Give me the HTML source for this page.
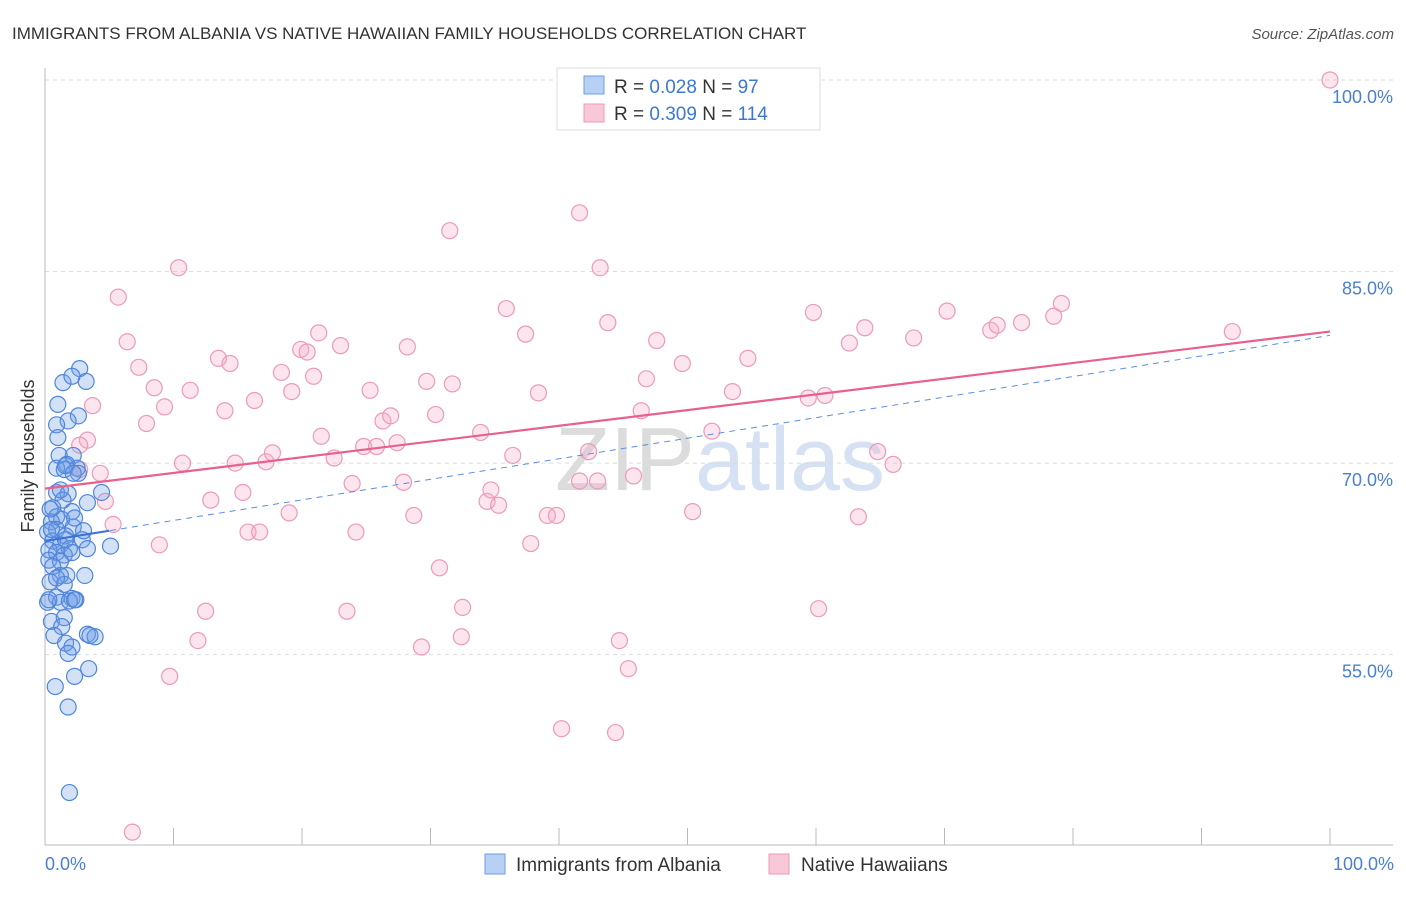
<!DOCTYPE html>
<html><head><meta charset="utf-8">
<style>
body{margin:0;background:#fff;font-family:"Liberation Sans",sans-serif;}
svg text{font-family:"Liberation Sans",sans-serif;}
</style></head>
<body>
<svg id="chart" width="1406" height="892" viewBox="0 0 1406 892" xmlns="http://www.w3.org/2000/svg">
<text x="12" y="39" font-size="17" fill="#333">IMMIGRANTS FROM ALBANIA VS NATIVE HAWAIIAN FAMILY HOUSEHOLDS CORRELATION CHART</text>
<text x="1394" y="39" font-size="15" fill="#555" text-anchor="end" font-style="italic">Source: ZipAtlas.com</text>
<text x="720" y="490" font-size="90" fill="#e4e8ee" text-anchor="middle" font-family="Liberation Serif"><tspan fill="#dcdcdc">ZIP</tspan><tspan fill="#d6e2f3" font-family="Liberation Sans">atlas</tspan></text>
<g id="grid"></g>
<g id="axes"></g>
<g id="pts"></g>
<g id="trends"></g>
<text transform="translate(34,456) rotate(-90)" font-size="18" fill="#333" text-anchor="middle">Family Households</text>
<text x="45" y="870" font-size="18" fill="#4a7fd4">0.0%</text>
<text x="1394" y="870" font-size="18" fill="#4a7fd4" text-anchor="end">100.0%</text>
<g>
<rect x="557" y="68" width="263" height="62" fill="#fff" stroke="#ddd"/>
<rect x="584" y="76" width="20" height="18" fill="#b7d0f4" stroke="#6e9de6"/>
<text x="614" y="93" font-size="19" fill="#333">R = <tspan fill="#3a78d6">0.028</tspan>   N = <tspan fill="#3a78d6"> 97</tspan></text>
<rect x="584" y="104" width="20" height="18" fill="#f8c8d8" stroke="#ee9ab8"/>
<text x="614" y="120" font-size="19" fill="#333">R = <tspan fill="#3a78d6">0.309</tspan>   N = <tspan fill="#3a78d6">114</tspan></text>
</g>
<g>
<rect x="485" y="854" width="20" height="20" fill="#b7d0f4" stroke="#6e9de6"/>
<text x="516" y="871" font-size="19" fill="#333">Immigrants from Albania</text>
<rect x="769" y="854" width="20" height="20" fill="#f8c8d8" stroke="#ee9ab8"/>
<text x="801" y="871" font-size="19" fill="#333">Native Hawaiians</text>
</g>
</svg>
<script>
const yTicks=[100,85,70,55];
const yTickLabels=["100.0%","85.0%","70.0%","55.0%"];
const xTicks=[10,20,30,40,50,60,70,80,90,100];
const blueX=[2.7,3.2,1.4,2.1,1.0,2.6,1.8,0.9,1.0,2.2,1.1,1.7,0.9,2.5,2.6,1.5,3.3,4.4,0.9,1.8,1.4,0.6,2.1,0.9,1.3,0.5,2.2,0.9,0.2,1.6,2.9,0.6,1.2,5.1,3.3,1.9,0.3,0.9,1.5,2.1,0.3,1.2,0.6,3.1,1.7,1.2,0.4,1.5,2.1,2.4,0.9,0.2,1.2,1.9,0.5,1.5,1.3,0.7,3.3,3.9,3.5,1.6,2.1,1.8,3.4,2.3,0.8,1.8,1.9,3.0,0.9,0.3,2.3,0.4,1.6,2.2,1.2,0.5,1.6,2.3];
const blueY=[77.4,76.4,76.3,76.8,74.6,73.7,73.3,73.0,72.0,70.6,70.6,69.9,69.6,69.6,69.2,69.5,66.9,67.7,67.7,67.6,67.1,66.5,66.2,65.8,65.6,65.4,65.0,64.8,64.6,64.3,64.0,63.9,63.6,63.5,63.3,63.3,63.2,63.0,62.8,63.0,62.4,62.3,61.9,61.2,61.2,61.2,60.7,60.5,59.4,59.3,59.5,59.1,59.1,59.2,57.6,57.9,57.2,56.5,56.6,56.4,56.5,55.9,55.6,55.1,53.9,53.3,52.5,50.9,44.2,64.7,61.0,59.3,59.3,66.4,69.8,69.2,67.9,64.8,64.0,65.7];
const pinkX=[100,5.7,10.4,6.4,7.3,8.5,9.3,7.9,3.7,3.3,2.7,2.7,4.3,4.7,5.3,8.9,10.7,11.3,12.9,13.5,14.0,14.4,14.8,15.4,16.3,15.8,16.7,17.2,17.7,18.4,19.0,19.2,19.9,20.4,20.9,21.3,21.5,22.5,23.0,23.9,24.2,24.8,25.8,25.3,23.5,26.3,26.9,27.4,27.9,28.2,28.7,29.7,30.4,31.7,30.7,29.3,31.5,32.4,32.5,33.9,34.4,34.7,35.3,36.4,35.9,37.4,37.8,38.4,39.1,39.8,40.2,41.6,42.3,41.6,43.0,43.2,43.8,44.7,45.4,44.4,45.8,46.4,46.8,47.6,49.6,50.4,51.9,53.5,54.7,59.4,59.8,60.2,60.7,62.6,63.3,63.8,64.8,66.0,67.6,70.2,73.6,74.1,76.0,78.5,79.1,92.4,6.8,9.7,11.9,12.5];
const pinkY=[100,83.0,85.3,79.5,77.5,75.9,74.4,73.1,74.5,71.8,71.4,69.5,69.2,67.0,65.2,63.6,70.0,75.7,67.1,78.2,74.1,77.8,70.0,67.7,74.9,64.6,64.6,70.1,70.8,77.1,66.1,75.6,78.9,78.7,76.8,80.2,72.1,70.4,79.2,68.4,64.6,71.3,71.3,75.7,58.4,73.3,73.7,71.6,68.5,79.1,65.9,76.4,73.8,76.2,61.8,55.6,88.2,56.4,58.7,72.4,67.0,67.9,66.7,70.6,82.1,80.1,63.7,75.5,65.9,65.9,49.2,89.6,70.9,68.6,68.6,85.3,81.0,56.1,53.9,48.9,69.0,74.1,76.6,79.6,77.8,66.2,72.5,75.6,78.2,75.1,81.8,58.6,75.3,79.4,65.8,80.6,70.9,69.9,79.8,81.9,80.4,80.8,81.0,81.5,82.5,80.3,41.1,53.3,56.1,58.4];
const pinkTrend=[68.0,80.3];
const blueTrend=[63.9,80.0];
const blueSolidEnd=5;

const NS="http://www.w3.org/2000/svg";
const X0=45,X1=1330,Y100=80,PXPER=12.77;
function sx(v){return X0+(X1-X0)*v/100;}
function sy(v){return Y100+(100-v)*PXPER;}
function mk(tag,attrs,parent){const e=document.createElementNS(NS,tag);for(const k in attrs)e.setAttribute(k,attrs[k]);parent.appendChild(e);return e;}
const grid=document.getElementById('grid'),axes=document.getElementById('axes'),pts=document.getElementById('pts'),tr=document.getElementById('trends');
yTicks.forEach((t,i)=>{
  const l=mk('line',{x1:45,x2:1393,y1:sy(t),y2:sy(t),stroke:'#dcdcdc','stroke-dasharray':'4,4'},grid);
  
  
  const tx=mk('text',{x:1393,y:sy(t)+23,'font-size':18,fill:'#4a7fd4','text-anchor':'end'},grid);
  tx.textContent=yTickLabels[i];
  
  
});
const xa=mk('line',{x1:45,x2:1393,y1:845,y2:845,stroke:'#bbb'},axes);


const ya=mk('line',{x1:45,x2:45,y1:68,y2:845,stroke:'#bbb'},axes);


xTicks.forEach(t=>{
  const l=mk('line',{x1:sx(t),x2:sx(t),y1:828,y2:845,stroke:'#bbb'},axes);
  
  
});
pinkX.forEach((x,i)=>{
  const c=mk('circle',{cx:sx(x),cy:sy(pinkY[i]),r:8,fill:'rgba(244,170,198,0.3)',stroke:'#ec9ab8','stroke-width':1.2},pts);
  
  
});
blueX.forEach((x,i)=>{
  const c=mk('circle',{cx:sx(x),cy:sy(blueY[i]),r:8,fill:'rgba(110,155,230,0.3)',stroke:'#4f86dc','stroke-width':1.2},pts);
  
  
});
const bd=mk('line',{x1:sx(0),y1:sy(blueTrend[0]),x2:sx(100),y2:sy(blueTrend[1]),stroke:'#5b8fdf','stroke-width':1,'stroke-dasharray':'6,5'},tr);


const bs=mk('line',{x1:sx(0),y1:sy(blueTrend[0]),x2:sx(blueSolidEnd),y2:sy(blueTrend[0]+(blueTrend[1]-blueTrend[0])*blueSolidEnd/100),stroke:'#3a72d6','stroke-width':2},tr);


const pt=mk('line',{x1:sx(0),y1:sy(pinkTrend[0]),x2:sx(100),y2:sy(pinkTrend[1]),stroke:'#e8608e','stroke-width':2.2},tr);


</script>
</body></html>
